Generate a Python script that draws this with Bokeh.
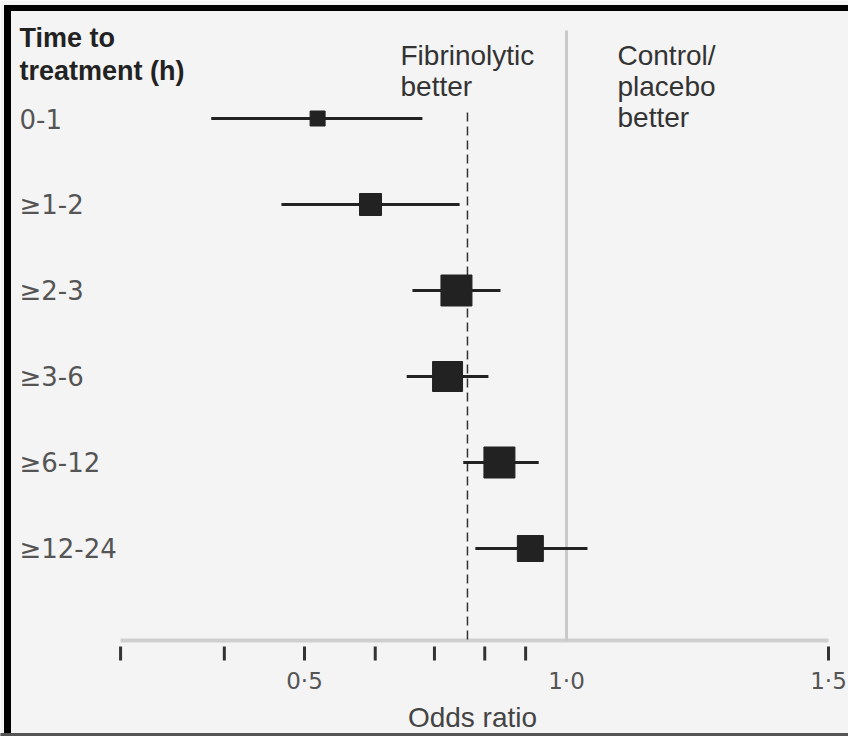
from bokeh.plotting import figure
from bokeh.models import Range1d, ColumnDataSource
from bokeh.core.properties import value
from bokeh.embed import file_html
from bokeh.resources import INLINE

# ---- data ----
groups = ["0-1", "≥1-2", "≥2-3", "≥3-6", "≥6-12", "≥12-24"]
odds = [0.525, 0.626, 0.790, 0.773, 0.872, 0.931]
lower = [0.322, 0.456, 0.706, 0.695, 0.803, 0.826]
upper = [0.725, 0.796, 0.874, 0.851, 0.947, 1.040]
weight = [15, 22, 31, 30, 31, 26]
pooled = 0.811
tick_values = [0.149, 0.347, 0.5, 0.635, 0.748, 0.844, 0.922, 1.5]
label_values = [0.5, 1.0, 1.5]
label_texts = ["0·5", "1·0", "1·5"]

# ---- layout ----
W, H = 848, 736
X_ONE, X_SCALE = 566, 524          # pixel of OR=1.0, pixels per unit OR
ROW_TOP, ROW_STEP = 118, 86


def px2v(px):
    return 1 + (px - X_ONE) / X_SCALE


rows = [ROW_TOP + ROW_STEP * i for i in range(len(groups))]

p = figure(width=W, height=H, output_backend="svg", toolbar_location=None,
           x_range=Range1d(px2v(0), px2v(W)), y_range=Range1d(H, 0),
           x_axis_type=None, y_axis_type=None, min_border=0)
p.grid.visible = False
p.outline_line_color = None
p.background_fill_color = "#f4f4f4"
p.border_fill_color = "#f4f4f4"

SANS = value("Liberation Sans")
WIDE = value("DejaVu Sans")

# frame border of the picture
p.quad(left=[px2v(4)], right=[px2v(10)], bottom=[H], top=[5], color="#000000")
p.quad(left=[px2v(4)], right=[px2v(W)], bottom=[10], top=[5], color="#000000")
p.quad(left=[px2v(0)], right=[px2v(W)], bottom=[736], top=[733], color="#555555")

# axis baseline and the line of no effect
AXIS_Y = 640
p.segment(x0=[tick_values[0]], x1=[tick_values[-1]], y0=[AXIS_Y], y1=[AXIS_Y],
          line_color="#cfcfcf", line_width=4)
p.segment(x0=[1.0], x1=[1.0], y0=[30], y1=[AXIS_Y], line_color="#c9c9c9", line_width=3)

# pooled dashed line
p.segment(x0=[pooled], x1=[pooled], y0=[112], y1=[AXIS_Y], line_color="#333333",
          line_width=1.5, line_dash="9 5")

# ticks
p.segment(x0=tick_values, x1=tick_values, y0=[646] * len(tick_values),
          y1=[660] * len(tick_values), line_color="#333333", line_width=3)
p.text(x=label_values, y=[680] * 3, text=label_texts, text_align="center",
       text_baseline="middle", text_font=WIDE, text_font_size="23px",
       text_color="#555555")
p.text(x=[px2v(472)], y=[717], text=["Odds ratio"], text_align="center",
       text_baseline="middle", text_font=SANS, text_font_size="28px",
       text_color="#444444")

# confidence intervals and point estimates
src = ColumnDataSource(dict(g=groups, y=rows, od=odds, lo=lower, hi=upper, w=weight))
p.segment(x0="lo", x1="hi", y0="y", y1="y", source=src, line_color="#222222", line_width=3)
p.scatter(x="od", y="y", size="w", marker="square", source=src,
          fill_color="#222222", line_color="#222222", line_width=1)

# row labels
p.text(x=[px2v(19)] * len(groups), y=rows, text=groups, text_align="left",
       text_baseline="middle", text_font=WIDE, text_font_size="26px",
       text_color="#555555")

# header
p.text(x=[px2v(19)] * 2, y=[37, 70], text=["Time to", "treatment (h)"],
       text_align="left", text_baseline="middle", text_font=SANS,
       text_font_size="27px", text_font_style="bold", text_color="#222222")
p.text(x=[px2v(400)] * 2, y=[55, 86], text=["Fibrinolytic", "better"],
       text_align="left", text_baseline="middle", text_font=SANS,
       text_font_size="28px", text_color="#333333")
p.text(x=[px2v(617)] * 3, y=[55, 86, 117], text=["Control/", "placebo", "better"],
       text_align="left", text_baseline="middle", text_font=SANS,
       text_font_size="28px", text_color="#333333")

open("out.html", "w").write(file_html(p, INLINE))
